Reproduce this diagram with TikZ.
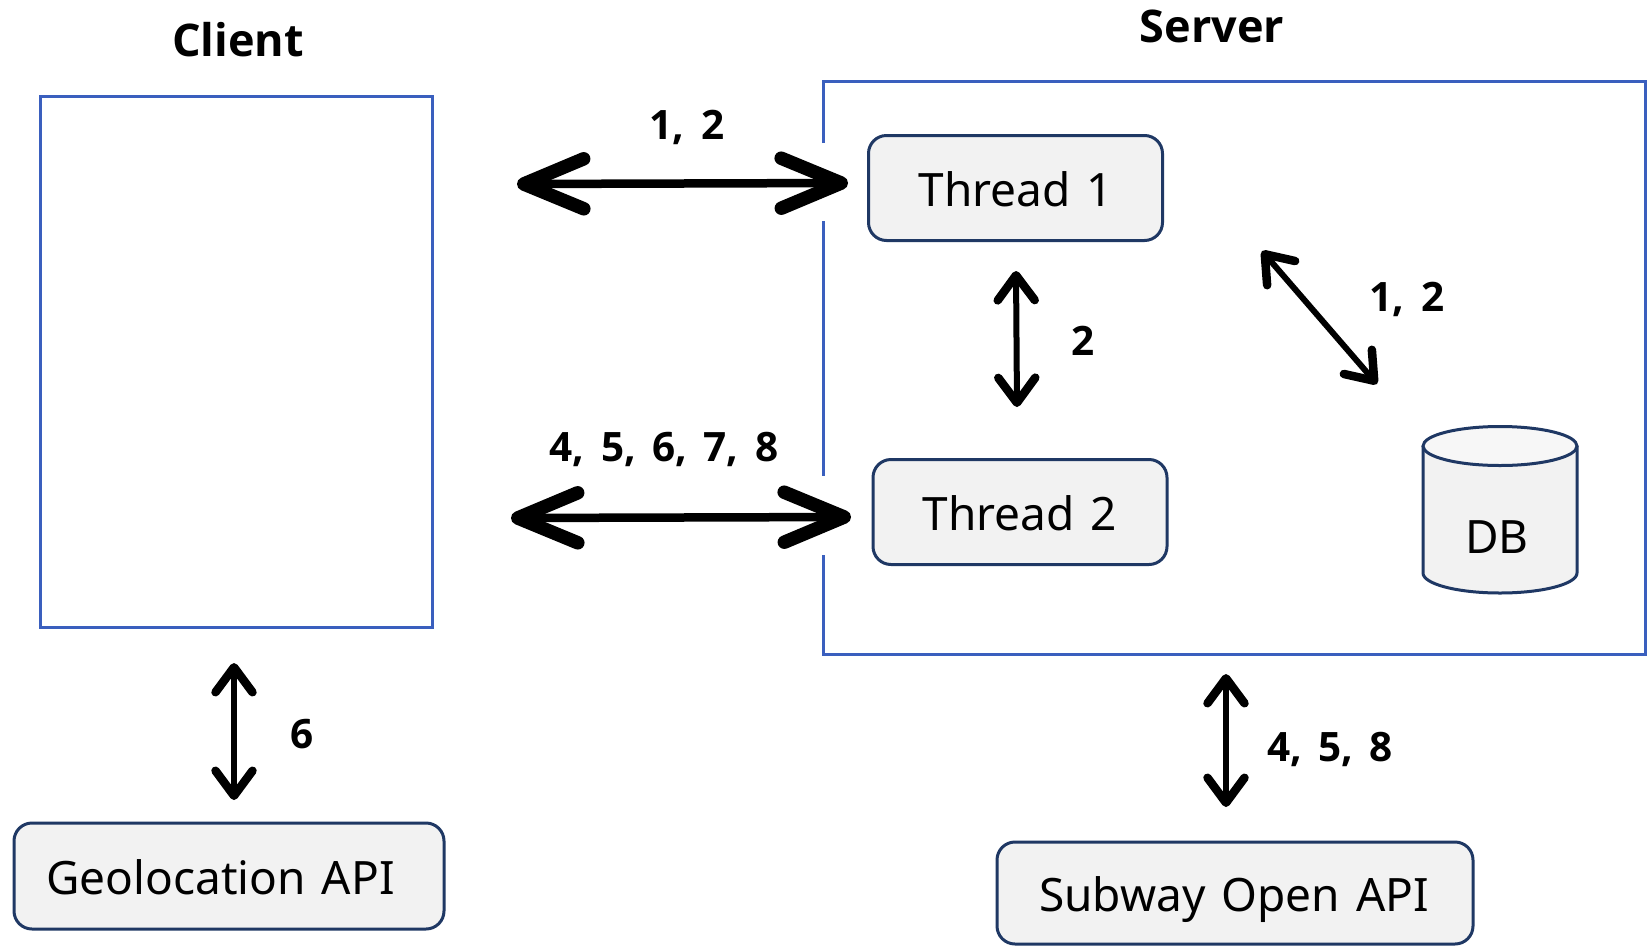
\documentclass[tikz,border=0pt]{standalone}
\usepackage{fontspec}
\setmainfont{Noto Sans}
\newfontfamily\heavyfont{Open Sans}[UprightFont=*,BoldFont=* Bold]
\usetikzlibrary{arrows.meta}
\definecolor{framecol}{HTML}{3A5FBE}
\definecolor{boxline}{HTML}{1F3864}
\definecolor{boxfill}{HTML}{F2F2F2}
\tikzset{
  framepath/.style={draw=framecol,line width=3pt},
  procbox/.style={draw=boxline,fill=boxfill,line width=3pt,rounded corners=18pt,inner sep=0pt},
  boxtext/.style={inner sep=0pt,font=\fontsize{46}{54}\selectfont},
  headtext/.style={inner sep=0pt,font=\fontsize{45}{52}\selectfont\heavyfont\bfseries},
  numtext/.style={inner sep=0pt,font=\fontsize{40.5}{48}\selectfont\heavyfont\bfseries},
  bigarrow/.style={line width=8.5pt,{Straight Barb[round,length=60pt,width=50pt,line width=13.5pt]}-{Straight Barb[round,length=60pt,width=50pt,line width=13.5pt]}},
  midarrow/.style={line width=6pt,{Straight Barb[round,length=25pt,width=37pt,line width=8.5pt]}-{Straight Barb[round,length=25pt,width=37pt,line width=8.5pt]}},
}
\begin{document}
\begin{tikzpicture}[x=1pt,y=-1pt]
\useasboundingbox (0,0) rectangle (1652,951);
\fill[white] (0,0) rectangle (1652,951);
% client frame
\node[framepath,minimum width=392pt,minimum height=531pt,inner sep=0pt] (client) at (236,362) {};
% server frame with gaps
\coordinate (stl) at (823,81);
\coordinate (str) at (1645,81);
\coordinate (sbr) at (1645,654);
\coordinate (sbl) at (823,654);
\draw[framepath,line join=miter] (823,143) -- (stl) -- (str) -- (sbr) -- (sbl) -- (823,555);
\draw[framepath] (823,221) -- (823,476);
% boxes
\node[procbox,minimum width=294pt,minimum height=105pt] (t1) at (1015.5,188) {};
\node[procbox,minimum width=294pt,minimum height=105pt] (t2) at (1020,512) {};
\node[procbox,minimum width=430pt,minimum height=106pt] (geo) at (229,876) {};
\node[procbox,minimum width=476pt,minimum height=102pt] (sub) at (1235,893) {};
\node[boxtext] (t1t) at (1016,189) {Thread\hspace{4pt} 1};
\node[boxtext] (t2t) at (1020,513) {Thread\hspace{4pt} 2};
\node[boxtext] (geot) at (220.5,877) {Geolocation\hspace{4pt} API};
\node[boxtext] (subt) at (1234,900) {Subway\hspace{4pt} Open\hspace{4pt} API};
% DB
\path[draw=boxline,fill=boxfill,line width=3pt] (1423,446) -- (1423,573) arc[start angle=180,end angle=0,x radius=77,y radius=20] -- (1577,446);
\path[draw=boxline,fill=boxfill!60!white,line width=3pt] (1500,446) ellipse[x radius=77,y radius=19.5];
\node[boxtext] (db) at (1497,537) {DB};
% headings
\node[headtext] (hc) at (238,40) {Client};
\node[headtext] (hs) at (1212,26) {Server};
% number labels
\node[numtext] (n1) at (687,127) {1,\hspace{6pt} 2};
\node[numtext] (n2) at (664,449) {4,\hspace{6pt} 5,\hspace{6pt} 6,\hspace{6pt} 7,\hspace{6pt} 8};
\node[numtext] (n3) at (1083,341) {2};
\node[numtext] (n4) at (1407,299) {1,\hspace{6pt} 2};
\node[numtext] (n5) at (302.5,734) {6};
\node[numtext] (n6) at (1330,749) {4,\hspace{6pt} 5,\hspace{6pt} 8};
% arrow ends
\coordinate (a1l) at (517,184); \coordinate (a1r) at (848,183);
\coordinate (a2l) at (511,518); \coordinate (a2r) at (851,517);
\coordinate (a3t) at (1016,271); \coordinate (a3b) at (1017,407);
\coordinate (a4t) at (1262,251); \coordinate (a4b) at (1377,384);
\coordinate (a5t) at (234,663); \coordinate (a5b) at (234,800);
\coordinate (a6t) at (1226,674); \coordinate (a6b) at (1226,807);
\draw[bigarrow] (a1l) -- (a1r);
\draw[bigarrow] (a2l) -- (a2r);
\draw[midarrow] (a3t) -- (a3b);
\draw[midarrow] (a4t) -- (a4b);
\draw[midarrow] (a5t) -- (a5b);
\draw[midarrow] (a6t) -- (a6b);
\end{tikzpicture}
\end{document}
